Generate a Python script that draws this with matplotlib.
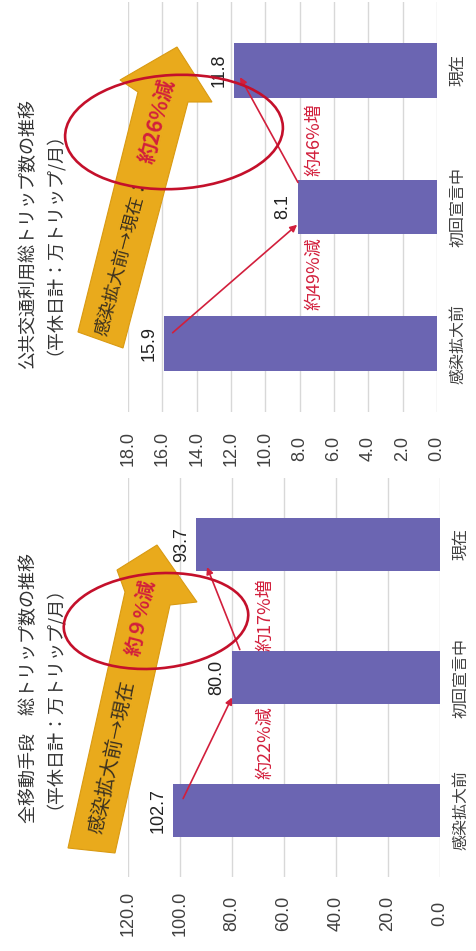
import matplotlib
matplotlib.use('Agg')
import matplotlib.pyplot as plt
from matplotlib.patches import Polygon, Ellipse
import numpy as np

plt.rcParams['font.family'] = ['Noto Sans CJK JP', 'DejaVu Sans']

# ---------------- data ----------------
categories = ['感染拡大前', '初回宣言中', '現在']
all_trips = [102.7, 80.0, 93.7]
transit_trips = [15.9, 8.1, 11.8]
all_ticks = [0, 20, 40, 60, 80, 100, 120]
transit_ticks = [0, 2, 4, 6, 8, 10, 12, 14, 16, 18]
all_title = ['全移動手段　総トリップ数の推移', '（平休日計：万トリップ/月）']
transit_title = ['公共交通利用総トリップ数の推移', '（平休日計：万トリップ/月）']
all_changes = ['約22%減', '約17%増']
transit_changes = ['約49%減', '約46%増']
all_summary = ['感染拡大前→現在', '約９%減']
transit_summary = ['感染拡大前→現在：', '約26%減']

BAR = '#6B65B2'
RED = '#D21F3C'
ELL = '#C4102B'
YEL = '#E9AA1C'
TXT = '#404040'

W, H = 477, 951
fig = plt.figure(figsize=(W / 100, H / 100), dpi=100)


def px_axes(left, top, right, bottom, **kw):
    return fig.add_axes([left / W, 1 - bottom / H, (right - left) / W, (bottom - top) / H], **kw)


def draw(ax, values, ticks, vmax, changes, arrows, change_pos):
    y = np.arange(len(categories))
    ax.barh(y, values, height=0.4, color=BAR, zorder=3)
    ax.set_xlim(vmax, 0)
    ax.set_ylim(-0.5, 2.5)
    ax.set_xticks(ticks)
    ax.set_xticklabels([f'{t:.1f}' for t in ticks], rotation=90,
                       family='Liberation Sans', fontsize=13, color=TXT)
    for lb in ax.get_xticklabels():
        lb.set_va('center')
    ax.tick_params(axis='x', length=0, pad=26)
    ax.yaxis.tick_right()
    ax.set_yticks(y)
    ax.set_yticklabels(categories, rotation=90, fontsize=11.5, color=TXT)
    for lb in ax.get_yticklabels():
        lb.set_va('center')
    ax.tick_params(axis='y', length=0, pad=9)
    ax.grid(axis='x', color='#d8d8d8', lw=1, zorder=0)
    ax.set_axisbelow(True)
    for s in ax.spines.values():
        s.set_visible(False)
    for yi, v in zip(y, values):
        ax.annotate(f'{v:.1f}', (v, yi), xytext=(-15, 0), textcoords='offset pixels',
                    rotation=90, ha='center', va='center', family='Liberation Sans',
                    fontsize=13, color='#222222', zorder=6)
    for (start, end) in arrows:
        ax.annotate('', xy=end, xytext=start,
                    arrowprops=dict(arrowstyle='-|>', color=RED, lw=1.2,
                                    mutation_scale=10, shrinkA=0, shrinkB=0),
                    zorder=7, annotation_clip=False)
    for txt, pos in zip(changes, change_pos):
        ax.text(pos[0], pos[1], txt, rotation=90, ha='center', va='center',
                fontsize=13, color=RED, zorder=7)


ax_all = px_axes(128, 478, 440, 877)
draw(ax_all, all_trips, all_ticks, 120, all_changes,
     [((98.8, 0.09), (80.0, 0.85)), ((77.0, 1.21), (89.6, 1.83))],
     [(67, 0.51), (67, 1.47)])

ax_tr = px_axes(128, 2, 437, 412)
draw(ax_tr, transit_trips, transit_ticks, 18, transit_changes,
     [((15.4, 0.08), (8.15, 0.87)), ((8.1, 1.18), (11.47, 1.95))],
     [(7.16, 0.51), (7.16, 1.49)])

# titles (two lines in one text block)
for lines, cy in ((all_title, 688), (transit_title, 234)):
    fig.text(37 / W, 1 - cy / H, '\n'.join(lines), rotation=90, ha='center', va='center',
             multialignment='center', linespacing=0.85, fontsize=13, color='#333333')

# decorations overlay in pixel coordinates
ov = fig.add_axes([0, 0, 1, 1], zorder=10)
ov.set_xlim(0, W)
ov.set_ylim(H, 0)
ov.axis('off')
ov.patch.set_alpha(0)

arrow_all = [(68, 848), (125, 592), (117, 570), (157, 545), (197, 602), (170, 605), (115, 853)]
arrow_tr = [(78, 332), (138, 92), (120, 80), (177, 47), (212, 102), (188, 102), (123, 348)]
ov.add_patch(Polygon(arrow_all, closed=True, facecolor=YEL, edgecolor='#D99A12', lw=0.8, zorder=1))
ov.add_patch(Polygon(arrow_tr, closed=True, facecolor=YEL, edgecolor='#D99A12', lw=0.8, zorder=1))

ov.text(112, 757, all_summary[0], rotation=78, rotation_mode='anchor', ha='center',
        va='center', fontsize=14, color='#3a3020', zorder=2)
ov.text(141, 618, all_summary[1], rotation=78, rotation_mode='anchor', ha='center',
        va='center', fontsize=14, color=RED, fontweight='bold', zorder=2)
ov.text(122, 257, transit_summary[0], rotation=75.3, rotation_mode='anchor', ha='center',
        va='center', fontsize=13, color='#3a3020', zorder=2)
ov.text(157, 121, transit_summary[1], rotation=75.3, rotation_mode='anchor', ha='center',
        va='center', fontsize=15, color=RED, fontweight='bold', zorder=2)

ov.add_patch(Ellipse((156, 621), 185, 95, angle=-5, fill=False, edgecolor=ELL, lw=1.9, zorder=3))
ov.add_patch(Ellipse((174, 132), 218, 114, angle=-3, fill=False, edgecolor=ELL, lw=1.9, zorder=3))

fig.savefig('out.png', dpi=100, facecolor='white')
